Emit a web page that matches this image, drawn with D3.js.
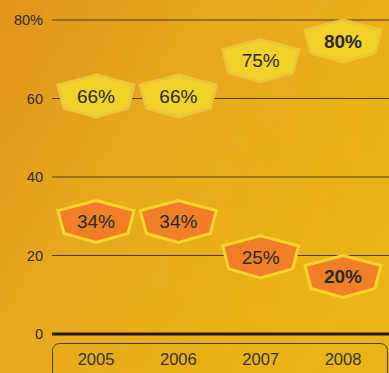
<!DOCTYPE html>
<html><head><meta charset="utf-8">
<script src="https://cdn.jsdelivr.net/npm/d3@7/dist/d3.min.js"></script>
<style>html,body{margin:0;padding:0;overflow:hidden;background:#e8a81c}</style>
</head><body>
<script>
const years = ["2005","2006","2007","2008"];
const yellowValues = [66, 66, 75, 80];
const orangeValues = [34, 34, 25, 20];
const yTicks = [0, 20, 40, 60, 80];
const yTickLabels = ["0", "20", "40", "60", "80%"];
const boldLast = [false, false, false, true];

const W = 389, H = 373;
const svg = d3.select("body").append("svg").attr("width", W).attr("height", H)
  .style("font-family", "'Liberation Sans', Arial, sans-serif");
const defs = svg.append("defs");
const g = defs.append("linearGradient").attr("id","bg").attr("x1","0").attr("y1","0").attr("x2","1").attr("y2","0.6");
g.append("stop").attr("offset","0").attr("stop-color","#e2941f");
g.append("stop").attr("offset","0.45").attr("stop-color","#e8aa1c");
g.append("stop").attr("offset","1").attr("stop-color","#ecb416");
const f = defs.append("filter").attr("id","tex").attr("x",0).attr("y",0).attr("width","100%").attr("height","100%");
f.append("feTurbulence").attr("type","fractalNoise").attr("baseFrequency","0.03").attr("numOctaves",3).attr("seed",4).attr("result","n");
f.append("feColorMatrix").attr("in","n").attr("type","matrix")
  .attr("values","0 0 0 0 0.55  0 0 0 0 0.35  0 0 0 0 0  0 0 0 0.10 0").attr("result","c");
f.append("feComposite").attr("in","c").attr("in2","SourceGraphic").attr("operator","over");
svg.append("rect").attr("width",W).attr("height",H).attr("fill","url(#bg)");
svg.append("rect").attr("width",W).attr("height",H).attr("fill","url(#bg)").attr("filter","url(#tex)").attr("opacity",0.9);

const y = d3.scaleLinear().domain([0, 80]).range([334, 20]);
const x = d3.scalePoint().domain(years).range([96, 343]);

// gridlines
const grid = svg.append("g");
yTicks.forEach((t,i) => {
  grid.append("line").attr("x1",52).attr("x2",W).attr("y1",y(t)).attr("y2",y(t))
    .attr("stroke", t===0 ? "#1e1a14" : "#4a3c26").attr("stroke-width", t===0 ? 3 : 1.2);
  grid.append("text").attr("x",43).attr("y",y(t)).attr("dy","0.35em").attr("text-anchor","end")
    .attr("font-size",14.5).attr("fill","#2e2a22").text(yTickLabels[i]);
});

// x-axis box
svg.append("rect").attr("x",52.5).attr("y",343.5).attr("width",335).attr("height",40).attr("rx",7)
  .attr("fill","none").attr("stroke","#4a3e2a").attr("stroke-width",1);
years.forEach(yr => {
  svg.append("text").attr("x",x(yr)).attr("y",359).attr("dy","0.35em").attr("text-anchor","middle")
    .attr("font-size",16.5).attr("fill","#333").text(yr);
});

// hexagon path: top vertex sits at value position
function hex(cx, top) {
  const cy = top + 21;
  const pts = [[0,-21],[38,-11],[32,12],[0,21],[-32,12],[-38,-11]];
  return "M" + pts.map(p => [cx+p[0], cy+p[1]].join(",")).join("L") + "Z";
}
function drawSeries(vals, fill, stroke) {
  const gg = svg.append("g");
  vals.forEach((v,i) => {
    const cx = x(years[i]), top = y(v);
    gg.append("path").attr("d", hex(cx, top)).attr("fill", fill).attr("stroke", stroke)
      .attr("stroke-width", 3).attr("stroke-linejoin","miter");
    gg.append("text").attr("x", cx).attr("y", top + 21).attr("dy","0.36em").attr("text-anchor","middle")
      .attr("font-size", 19).attr("font-weight", boldLast[i] ? "bold" : "normal")
      .attr("fill","#2a2a2a").text(v + "%");
  });
}
drawSeries(yellowValues, "#f3d12b", "#ecc53a");
drawSeries(orangeValues, "#f07f27", "#f7d52c");
</script>
</body></html>
